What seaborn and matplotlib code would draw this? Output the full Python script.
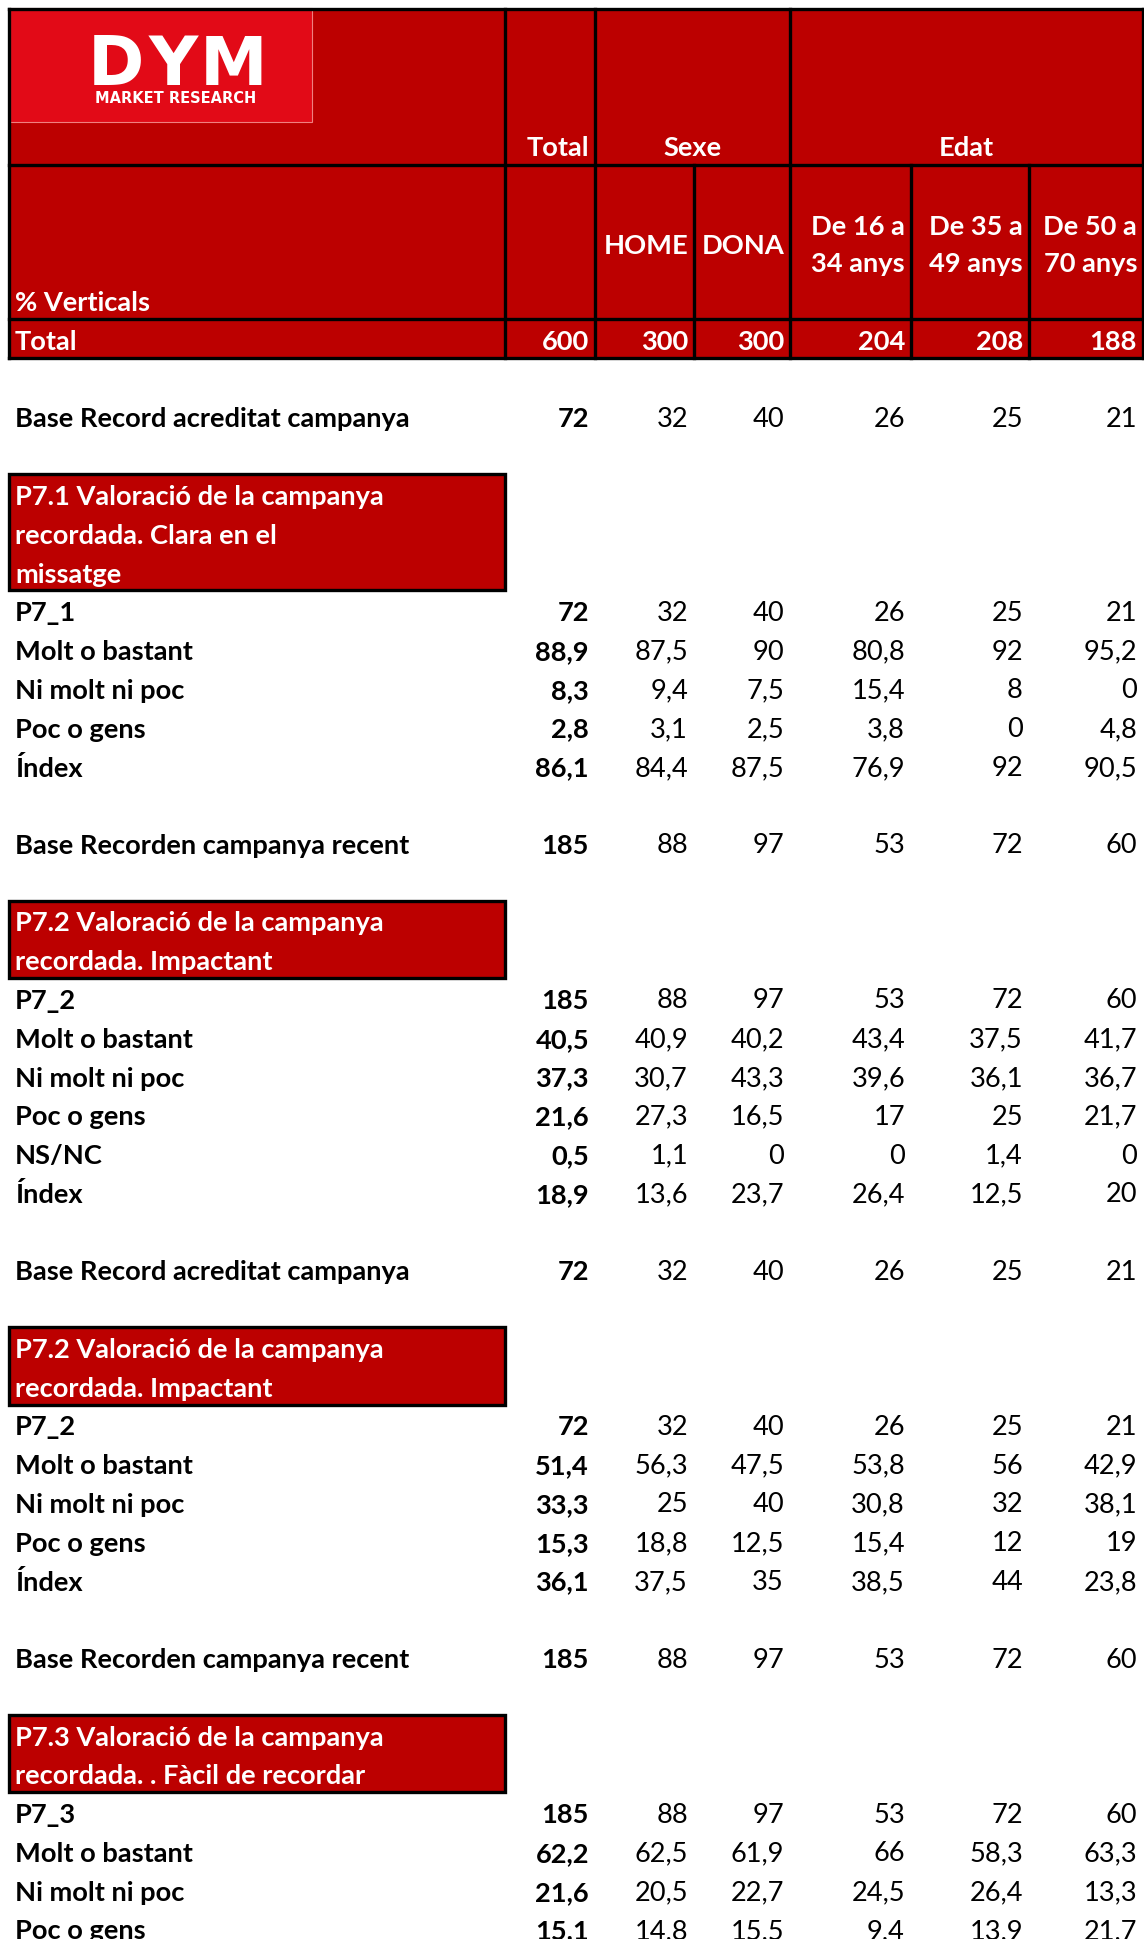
import numpy as np
import pandas as pd
import seaborn as sns
import matplotlib.pyplot as plt
from matplotlib.patches import Rectangle

# ---- data ----
col_labels = ["Total", "HOME", "DONA", "De 16 a\n34 anys", "De 35 a\n49 anys", "De 50 a\n70 anys"]
group_labels = ["Sexe", "Edat"]
total_row = [600, 300, 300, 204, 208, 188]

base_acreditat = [72, 32, 40, 26, 25, 21]
base_recent = [185, 88, 97, 53, 72, 60]

p71_title = "P7.1 Valoració de la campanya\nrecordada. Clara en el\nmissatge"
p71_rows = ["P7_1", "Molt o bastant", "Ni molt ni poc", "Poc o gens", "Índex"]
p71_vals = [
    [72, 32, 40, 26, 25, 21],
    [88.9, 87.5, 90, 80.8, 92, 95.2],
    [8.3, 9.4, 7.5, 15.4, 8, 0],
    [2.8, 3.1, 2.5, 3.8, 0, 4.8],
    [86.1, 84.4, 87.5, 76.9, 92, 90.5],
]

p72a_title = "P7.2 Valoració de la campanya\nrecordada. Impactant"
p72a_rows = ["P7_2", "Molt o bastant", "Ni molt ni poc", "Poc o gens", "NS/NC", "Índex"]
p72a_vals = [
    [185, 88, 97, 53, 72, 60],
    [40.5, 40.9, 40.2, 43.4, 37.5, 41.7],
    [37.3, 30.7, 43.3, 39.6, 36.1, 36.7],
    [21.6, 27.3, 16.5, 17, 25, 21.7],
    [0.5, 1.1, 0, 0, 1.4, 0],
    [18.9, 13.6, 23.7, 26.4, 12.5, 20],
]

p72b_title = "P7.2 Valoració de la campanya\nrecordada. Impactant"
p72b_rows = ["P7_2", "Molt o bastant", "Ni molt ni poc", "Poc o gens", "Índex"]
p72b_vals = [
    [72, 32, 40, 26, 25, 21],
    [51.4, 56.3, 47.5, 53.8, 56, 42.9],
    [33.3, 25, 40, 30.8, 32, 38.1],
    [15.3, 18.8, 12.5, 15.4, 12, 19],
    [36.1, 37.5, 35, 38.5, 44, 23.8],
]

p73_title = "P7.3 Valoració de la campanya\nrecordada. . Fàcil de recordar"
p73_rows = ["P7_3", "Molt o bastant", "Ni molt ni poc", "Poc o gens"]
p73_vals = [
    [185, 88, 97, 53, 72, 60],
    [62.2, 62.5, 61.9, 66, 58.3, 63.3],
    [21.6, 20.5, 22.7, 24.5, 26.4, 13.3],
    [15.1, 14.8, 15.5, 9.4, 13.9, 21.7],
]

blocks = [
    ("Base Record acreditat campanya", base_acreditat, p71_title, p71_rows, p71_vals),
    ("Base Recorden campanya recent", base_recent, p72a_title, p72a_rows, p72a_vals),
    ("Base Record acreditat campanya", base_acreditat, p72b_title, p72b_rows, p72b_vals),
    ("Base Recorden campanya recent", base_recent, p73_title, p73_rows, p73_vals),
]

# ---- style ----
RED = "#BC0000"
LOGO_RED = "#E20A17"
FS = 19.6
sns.set_theme(style="white")
plt.rcParams['font.family'] = ['Lato', 'DejaVu Sans']

W, H = 1144, 1940
edges = [9, 505, 595, 694, 790, 911, 1029, 1143]
head_top, head_mid, tot_top = 10, 166, 320
row_h = 38.77
dy = 2.5  # text baseline nudge


def fmt(v):
    return f"{v:g}".replace(".", ",")


fig = plt.figure(figsize=(W / 100, H / 100), dpi=100)
ax = fig.add_axes([0, 0, 1, 1])
ax.set_xlim(0, W)
ax.set_ylim(H, 0)
ax.axis("off")

# header background
ax.add_patch(Rectangle((edges[0], head_top), edges[-1] - edges[0], tot_top + row_h - head_top,
                       facecolor=RED, edgecolor="none", zorder=1))
# logo
ax.add_patch(Rectangle((10, 9), 302, 114, facecolor=LOGO_RED, edgecolor="#F08080", lw=0.8, zorder=2))
logo_font = ["DejaVu Sans"]
for ch, xc in zip("DYM", [116, 173, 234]):
    ax.text(xc, 85, ch, color="white", fontsize=49, fontweight="bold",
            family=logo_font, ha="center", va="baseline", zorder=3)
ax.text(175.5, 103, "MARKET RESEARCH", color="white", fontsize=10.5, fontweight="bold",
        family=logo_font, ha="center", va="baseline", zorder=3)

lw = 2.4
# horizontal header lines
for y in [head_top, head_mid, tot_top, tot_top + row_h]:
    ax.plot([edges[0], edges[-1]], [y, y], color="black", lw=lw, zorder=4, solid_capstyle="projecting")
# vertical header lines
for i, x in enumerate(edges):
    top = head_top if i in (0, 1, 2, 4, 7) else head_mid
    ax.plot([x, x], [top, tot_top + row_h], color="black", lw=lw, zorder=4, solid_capstyle="projecting")

pad = 6
# header texts
ax.text(edges[2] - pad, head_mid - 6, col_labels[0], color="white", fontsize=FS, fontweight="bold",
        ha="right", va="bottom", zorder=5)
ax.text((edges[2] + edges[4]) / 2, head_mid - 6, group_labels[0], color="white", fontsize=FS,
        fontweight="bold", ha="center", va="bottom", zorder=5)
ax.text((edges[4] + edges[7]) / 2, head_mid - 6, group_labels[1], color="white", fontsize=FS,
        fontweight="bold", ha="center", va="bottom", zorder=5)
ax.text(15, tot_top - 5, "% Verticals", color="white", fontsize=FS, fontweight="bold",
        ha="left", va="bottom", zorder=5)
for j in range(1, 6):
    ax.text(edges[j + 2] - pad, (head_mid + tot_top) / 2 + dy, col_labels[j], color="white", fontsize=FS,
            fontweight="bold", ha="right", va="center", multialignment="right",
            linespacing=1.65, zorder=5)

# total row
yc = tot_top + row_h / 2 + dy
ax.text(15, yc, "Total", color="white", fontsize=FS, fontweight="bold", ha="left", va="center", zorder=5)
for j, v in enumerate(total_row):
    ax.text(edges[j + 2] - pad, yc, fmt(v), color="white", fontsize=FS, fontweight="bold",
            ha="right", va="center", zorder=5)


def draw_values(r, label, vals):
    yc = tot_top + (r + 0.5) * row_h + dy
    ax.text(15, yc, label, color="black", fontsize=FS, fontweight="bold", ha="left", va="center")
    for j, v in enumerate(vals):
        ax.text(edges[j + 2] - pad, yc, fmt(v), color="black", fontsize=FS,
                fontweight="bold" if j == 0 else "normal", ha="right", va="center")


r = 1
for base_label, base_vals, title, rows, vals in blocks:
    r += 1
    draw_values(r, base_label, base_vals)
    r += 2
    lines = title.split("\n")
    y0 = tot_top + r * row_h
    ax.add_patch(Rectangle((edges[0], y0), edges[1] - edges[0], len(lines) * row_h,
                           facecolor=RED, edgecolor="black", lw=2.4, zorder=2))
    for k, line in enumerate(lines):
        ax.text(15, y0 + (k + 0.5) * row_h + dy, line, color="white", fontsize=FS, fontweight="bold",
                ha="left", va="center", zorder=3)
    r += len(lines)
    for label, v in zip(rows, vals):
        draw_values(r, label, v)
        r += 1

fig.savefig("out.png", dpi=100)
